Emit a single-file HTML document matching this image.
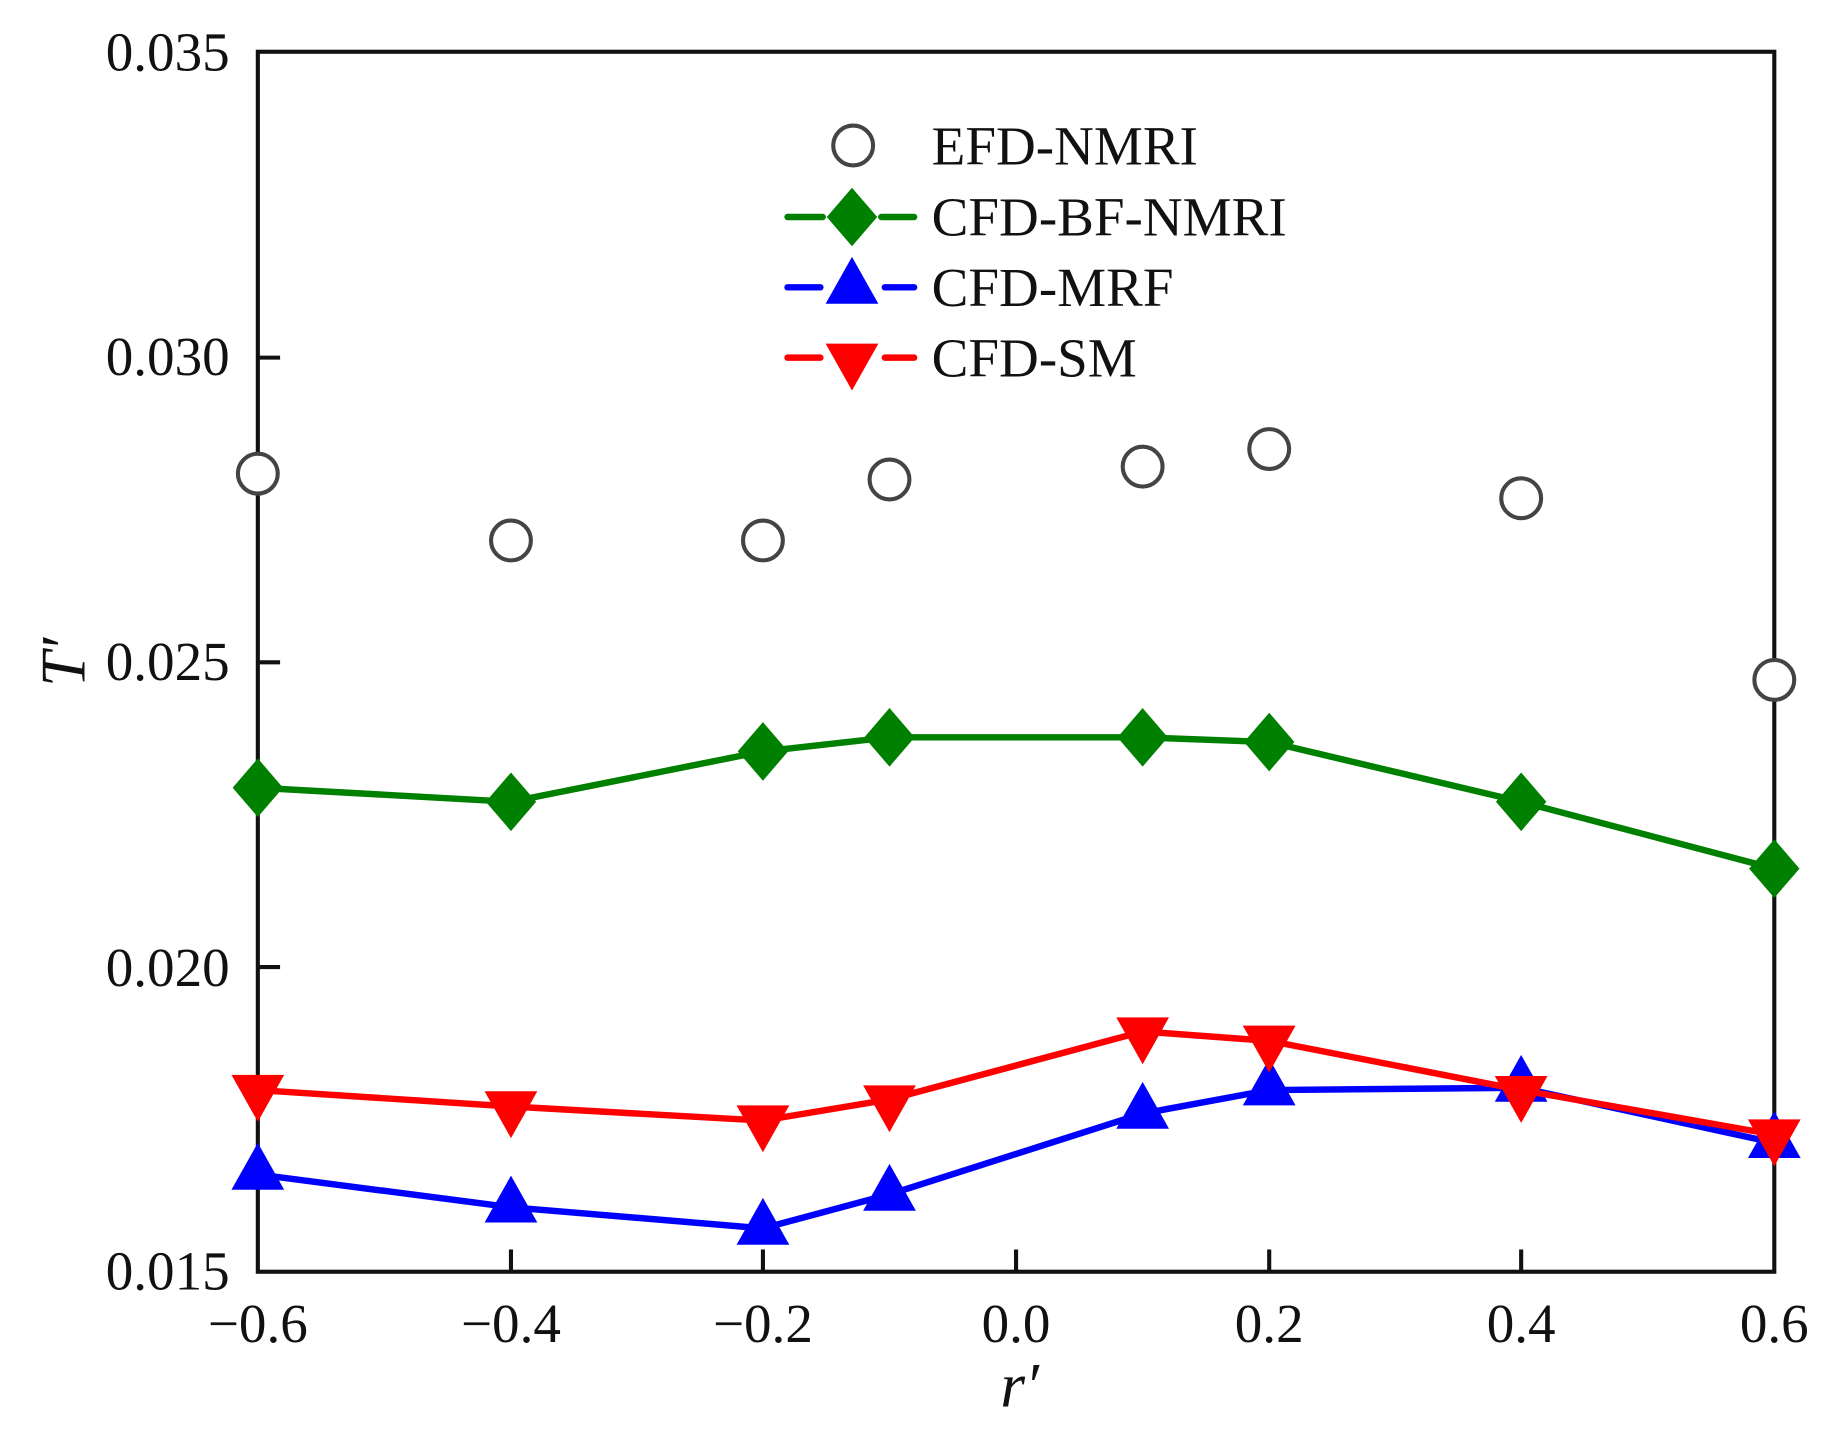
<!DOCTYPE html>
<html><head><meta charset="utf-8"><style>
html,body{margin:0;padding:0;background:#fff}
svg{display:block}
text{font-family:"Liberation Serif",serif;fill:#111;font-weight:500}
</style></head><body>
<svg width="1837" height="1436" viewBox="0 0 1567.5 1225" xmlns="http://www.w3.org/2000/svg">
<defs>
<path id="dia" d="M0,-25 L21.5,0 L0,25 L-21.5,0Z"/>
<path id="tup" d="M0,-25 L22.5,15 L-22.5,15Z"/>
<path id="tdn" d="M0,25 L22.5,-15 L-22.5,-15Z"/>
</defs>
<rect x="220" y="44" width="1294" height="1041" fill="none" stroke="#111" stroke-width="3.5"/>
<g stroke="#111" stroke-width="3.5">
<line x1="220" y1="305" x2="239" y2="305"/><line x1="220" y1="565" x2="239" y2="565"/><line x1="220" y1="825" x2="239" y2="825"/>
<line x1="436" y1="1085" x2="436" y2="1066"/><line x1="651" y1="1085" x2="651" y2="1066"/><line x1="867" y1="1085" x2="867" y2="1066"/>
<line x1="1083" y1="1085" x2="1083" y2="1066"/><line x1="1298" y1="1085" x2="1298" y2="1066"/>
</g>
<g font-size="47" text-anchor="end">
<text x="196" y="60">0.035</text><text x="196" y="320">0.030</text><text x="196" y="580">0.025</text>
<text x="196" y="841">0.020</text><text x="196" y="1100">0.015</text>
</g>
<g font-size="47" text-anchor="middle">
<text x="220" y="1145">−0.6</text><text x="436" y="1145">−0.4</text><text x="651" y="1145">−0.2</text>
<text x="867" y="1145">0.0</text><text x="1083" y="1145">0.2</text><text x="1298" y="1145">0.4</text><text x="1514" y="1145">0.6</text>
</g>
<text x="870" y="1200" font-size="54" font-style="italic" text-anchor="middle">r′</text>
<text transform="translate(72,565) rotate(-90)" font-size="54" font-style="italic" text-anchor="middle">T′</text>
<polyline fill="none" stroke="#008000" stroke-width="5.5" points="220,672 436,684 651,641 759,629 975,629 1083,633 1298,684 1514,741"/>
<g fill="#008000">
<use href="#dia" x="220" y="672"/><use href="#dia" x="436" y="684"/><use href="#dia" x="651" y="641"/><use href="#dia" x="759" y="629"/>
<use href="#dia" x="975" y="629"/><use href="#dia" x="1083" y="633"/><use href="#dia" x="1298" y="684"/><use href="#dia" x="1514" y="741"/>
</g>
<polyline fill="none" stroke="#0000ff" stroke-width="5.5" points="220,1002 436,1030 651,1048 759,1019 975,950 1083,930 1298,928 1514,975"/>
<g fill="#0000ff">
<use href="#tup" x="220" y="1000"/><use href="#tup" x="436" y="1028"/><use href="#tup" x="651" y="1047"/><use href="#tup" x="759" y="1018"/>
<use href="#tup" x="975" y="948"/><use href="#tup" x="1083" y="928"/><use href="#tup" x="1298" y="925"/><use href="#tup" x="1514" y="973"/>
</g>
<polyline fill="none" stroke="#ff0000" stroke-width="5.5" points="220,930 436,944 651,956 759,938 975,880 1083,888 1298,930 1514,968"/>
<g fill="#ff0000">
<use href="#tdn" x="220" y="932"/><use href="#tdn" x="436" y="946"/><use href="#tdn" x="651" y="958"/><use href="#tdn" x="759" y="941"/>
<use href="#tdn" x="975" y="883"/><use href="#tdn" x="1083" y="890"/><use href="#tdn" x="1298" y="933"/><use href="#tdn" x="1514" y="970"/>
</g>
<g fill="#fff" stroke="#444" stroke-width="3.5">
<circle cx="220" cy="404" r="17"/><circle cx="436" cy="461" r="17"/><circle cx="651" cy="461" r="17"/><circle cx="759" cy="409" r="17"/>
<circle cx="975" cy="398" r="17"/><circle cx="1083" cy="383" r="17"/><circle cx="1298" cy="425" r="17"/><circle cx="1514" cy="580" r="17"/>
</g>
<circle cx="728" cy="124" r="17" fill="#fff" stroke="#444" stroke-width="3.5"/>
<g stroke-width="5.5" stroke-linecap="round">
<line x1="672" y1="185" x2="702" y2="185" stroke="#008000"/><line x1="752" y1="185" x2="780" y2="185" stroke="#008000"/>
<line x1="672" y1="245" x2="700" y2="245" stroke="#0000ff"/><line x1="755" y1="245" x2="780" y2="245" stroke="#0000ff"/>
<line x1="672" y1="305" x2="700" y2="305" stroke="#ff0000"/><line x1="755" y1="305" x2="780" y2="305" stroke="#ff0000"/>
</g>
<use href="#dia" x="727" y="185" fill="#008000"/>
<use href="#tup" x="727" y="244" fill="#0000ff"/>
<use href="#tdn" x="727" y="308" fill="#ff0000"/>
<g font-size="47">
<text x="795" y="140">EFD-NMRI</text><text x="795" y="201">CFD-BF-NMRI</text>
<text x="795" y="261">CFD-MRF</text><text x="795" y="321">CFD-SM</text>
</g>
</svg>
</body></html>
